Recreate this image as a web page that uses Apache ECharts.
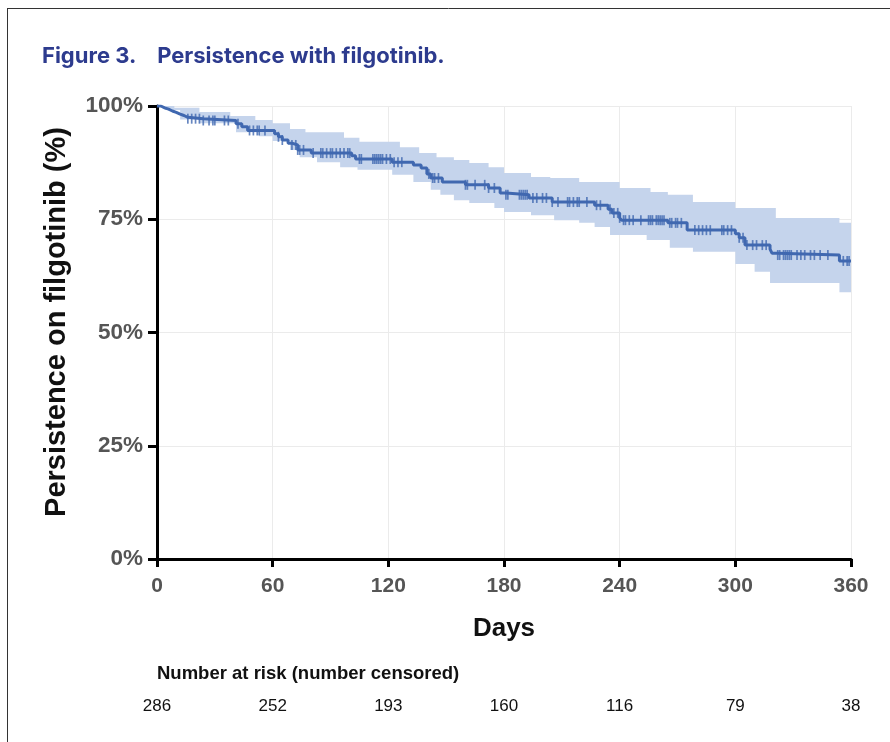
<!DOCTYPE html>
<html><head><meta charset="utf-8">
<script src="https://cdn.jsdelivr.net/npm/echarts@6/dist/echarts.min.js"></script>
<style>html,body{margin:0;padding:0;background:#fff}#c{width:890px;height:742px}</style>
</head><body><div id="c"></div>
<script>
// Kaplan-Meier estimate (day, % persisting)
var kmDays = [0,2,4,6,8,10,12,14,16,24,41,44,47,61,63,65,68,70,73,80,101,103,122,133,137,140,142,148,160,172,178,181,193,205,227,234,236,240,241,265,275,300,302,305,318,319,322,354,360];
var kmSurv = [100,99.6,99.3,98.9,98.6,98.2,97.9,97.5,97.2,96.8,96.1,95.4,94.6,93.9,93.2,92.5,91.8,91.4,90.3,89.6,89.0,88.3,87.6,87.0,86.3,85.0,84.1,83.2,82.6,81.9,80.8,80.4,79.7,78.8,78.1,77.2,76.4,75.3,74.8,74.2,72.6,71.8,70.9,69.3,68.4,67.5,67.1,65.8,65.8];
// Confidence band
var ciDays  = [0,4,9,12,22,38,41,51,53,60,69,74,77,83,95,97,104,105,122,126,133,136,142,145,147,154,162,172,175,180,194,204,206,219,227,235,240,254,256,265,266,278,300,310,318,321,354,360];
var ciUpper = [100,100,99.6,99.6,98.7,97.8,97.8,96.9,96.9,96.2,94.9,94.9,94.2,94.2,94.2,93.0,93.0,92.1,92.1,90.9,90.9,89.6,89.6,88.7,88.7,88.1,87.4,86.5,86.5,85.2,84.3,84.1,84.1,83.2,83.2,83.2,81.9,81.9,81.0,80.4,80.4,78.8,77.5,77.5,77.5,75.3,74.2,74.2];
var ciLower = [100,99.1,99.1,97.0,96.2,96.2,94.2,94.2,93.3,92.3,90.3,88.7,88.7,87.6,86.5,86.5,85.9,85.9,84.8,84.8,83.2,83.2,81.5,81.5,80.4,79.2,78.6,78.6,77.5,76.6,75.9,75.9,74.8,74.2,73.3,71.5,71.5,70.4,70.4,70.4,68.7,67.8,65.1,63.4,60.9,60.9,58.9,58.9];
// Censoring times (days)
var censorDays = [16,18,20,22,24,27,29,30,35,37,42,48,50,52,53,56,63,65,70,72,73,74,76,81,85,86,88,90,91,93,95,97,99,100,105,106,112,113,114,115,116,117,119,121,123,125,127,141,143,144,146,160,161,165,170,172,175,181,182,188,189,190,191,192,195,197,200,202,205,208,213,214,216,218,219,223,228,230,235,237,239,240,242,243,245,247,251,255,256,257,259,260,261,262,263,266,267,269,270,272,279,281,283,285,287,293,294,296,298,302,304,306,309,311,314,316,322,323,325,326,327,328,329,332,334,336,339,341,344,348,356,358,359];
// Axis ticks and risk table
var xTicks = [0,60,120,180,240,300,360];
var atRisk = [286,252,193,160,116,79,38];
var yTicks = [0,25,50,75,100];

function survAt(d){var v=kmSurv[0];for(var i=0;i<kmDays.length;i++){if(kmDays[i]<=d)v=kmSurv[i];}return v;}

var LINE='#4068B0', BAND='#C5D4EC';
var chart = echarts.init(document.getElementById('c'));

function bandItem(params, api){
  var pts=[], i, p, q;
  for(i=0;i<ciDays.length;i++){
    p=api.coord([ciDays[i],ciUpper[i]]); pts.push(p);
    if(i<ciDays.length-1){q=api.coord([ciDays[i+1],ciUpper[i]]); pts.push(q);}
  }
  for(i=ciDays.length-1;i>=0;i--){
    if(i<ciDays.length-1){q=api.coord([ciDays[i+1],ciLower[i]]); pts.push(q);}
    p=api.coord([ciDays[i],ciLower[i]]); pts.push(p);
  }
  return {type:'polygon',shape:{points:pts},style:{fill:BAND},silent:true};
}

chart.setOption({
  backgroundColor:'#fff',
  animation:false,
  grid:[
    {left:157,right:39,top:106,bottom:183,containLabel:false},
    {left:157,right:39,top:705,height:1}
  ],
  xAxis:[
    {type:'value',gridIndex:0,min:0,max:360,interval:60,
     name:'Days',nameLocation:'middle',nameGap:57,
     nameTextStyle:{fontFamily:'Liberation Sans',fontWeight:'bold',fontSize:26,color:'#111'},
     axisLine:{lineStyle:{color:'#000',width:3}},
     axisTick:{length:8,lineStyle:{color:'#000',width:3}},
     axisLabel:{margin:17,fontFamily:'Liberation Sans',fontWeight:'bold',fontSize:21,color:'#555'},
     splitLine:{show:true,lineStyle:{color:'#ebebeb',width:1}}},
    {type:'value',gridIndex:1,min:0,max:360,interval:60,
     axisLine:{show:false},axisTick:{show:false},splitLine:{show:false},
     axisLabel:{margin:0,verticalAlign:'middle',fontFamily:'Liberation Sans',fontSize:17,color:'#111',
       formatter:function(v){var i=xTicks.indexOf(v);return i>=0?String(atRisk[i]):'';}}}
  ],
  yAxis:[
    {type:'value',gridIndex:0,min:0,max:100,interval:25,
     axisLine:{show:true,lineStyle:{color:'#000',width:3}},
     axisTick:{show:true,length:9,lineStyle:{color:'#000',width:3}},
     axisLabel:{margin:14,fontFamily:'Liberation Sans',fontWeight:'bold',fontSize:22.5,color:'#555',formatter:'{value}%'},
     splitLine:{show:true,lineStyle:{color:'#ebebeb',width:1}}},
    {type:'value',gridIndex:1,show:false}
  ],
  series:[
    {type:'custom',name:'CI',coordinateSystem:'cartesian2d',xAxisIndex:0,yAxisIndex:0,
     renderItem:bandItem,data:[[0,100]],clip:false,silent:true,z:1},
    {type:'line',name:'KM',step:'end',symbol:'none',lineStyle:{color:LINE,width:3},
     data:kmDays.map(function(d,i){return [d,kmSurv[i]];}),z:3},
    {type:'scatter',name:'censored',symbol:'rect',symbolSize:[1.7,10],itemStyle:{color:LINE},
     data:censorDays.map(function(d){return [d,survAt(d)];}),z:4}
  ],
  graphic:[
    {type:'line',shape:{x1:7.5,y1:8,x2:7.5,y2:742},style:{stroke:'#333',lineWidth:1}},
    {type:'line',shape:{x1:7,y1:8.5,x2:890,y2:8.5},style:{stroke:'#333',lineWidth:1}},
    {type:'text',left:42,top:45,style:{text:'Figure 3.    Persistence with filgotinib.',fontFamily:'Inter',fontWeight:'bold',fontSize:22,fill:'#2D3B8E'}},
    {type:'text',x:57,y:322,rotation:Math.PI/2,style:{text:'Persistence on filgotinib (%)',fontFamily:'Liberation Sans',fontWeight:'bold',fontSize:29,fill:'#111',align:'center',verticalAlign:'middle'}},
    {type:'text',x:157,y:674,style:{text:'Number at risk (number censored)',fontFamily:'Liberation Sans',fontWeight:'bold',fontSize:18.5,fill:'#111',align:'left',verticalAlign:'middle'}}
  ]
});
</script></body></html>
